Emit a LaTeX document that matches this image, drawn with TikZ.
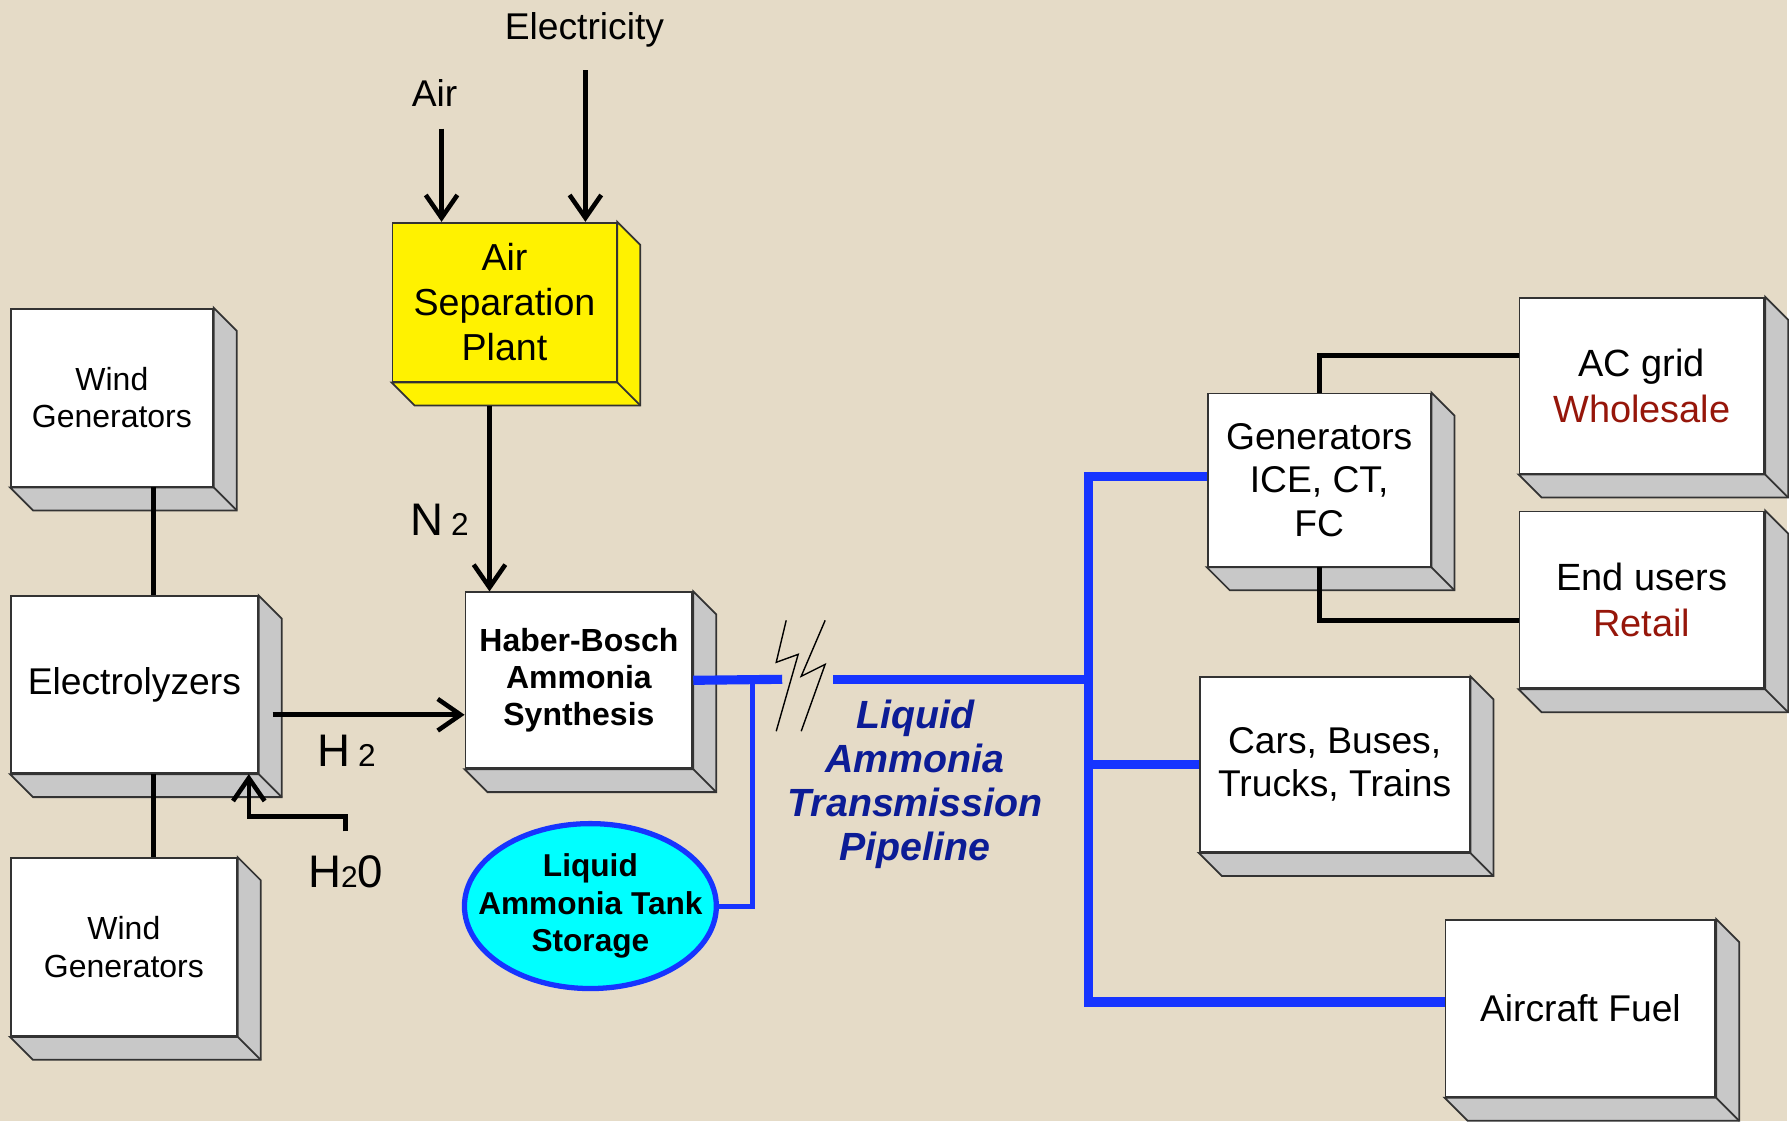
\documentclass[tikz,border=0pt]{standalone}
\usepackage{fontspec}
\setmainfont{Liberation Sans}
\usetikzlibrary{calc,positioning,arrows.meta,shapes.geometric}
\definecolor{paper}{RGB}{229,219,199}
\definecolor{pipeblue}{RGB}{22,52,255}
\definecolor{tankcyan}{RGB}{0,255,255}
\definecolor{textblue}{RGB}{12,28,150}
\definecolor{salered}{RGB}{150,22,10}
\definecolor{sidegrey}{RGB}{200,200,200}

\begin{document}
\begin{tikzpicture}[
  x=0.01cm, y=-0.01cm,
  every node/.style={font=\fontsize{10.6}{12.6}\selectfont, align=center, inner sep=0pt},
  blk/.style={rectangle, draw=black!80, fill=white, line width=0.5pt},
  small/.style={font=\fontsize{9.1}{10.8}\selectfont},
  flow/.style={line width=1.3pt, -{Straight Barb[length=6.5pt,width=9pt,line width=1.3pt]}},
  link/.style={line width=1.4pt},
  pipe/.style={pipeblue, line width=2.6pt, line join=miter},
  >=latex
]
\fill[paper] (0,0) rectangle (1789,1122);

% blocks
\node[blk, small, minimum width=2.02cm, minimum height=1.78cm] (windA) at (112,398) {Wind\\Generators};
\node[blk, minimum width=2.47cm, minimum height=1.77cm] (elec) at (134.5,685.5) {Electrolyzers};
\node[blk, small, minimum width=2.26cm, minimum height=1.78cm] (windB) at (124,948) {Wind\\Generators};
\node[blk, fill=yellow, minimum width=2.24cm, minimum height=1.59cm,
  font=\fontsize{10.7}{12.8}\selectfont] (asu) at (505,302.5) {Air\\Separation\\Plant};
\node[blk, minimum width=2.27cm, minimum height=1.76cm,
  font=\bfseries\fontsize{9.1}{10.6}\selectfont] (hb) at (579.5,681) {Haber-Bosch\\Ammonia\\Synthesis};
\node[ellipse, draw=pipeblue, line width=1.5pt, fill=tankcyan, minimum width=2.52cm, minimum height=1.65cm,
  label={[font=\bfseries\fontsize{9}{10.6}\selectfont]center:{Liquid\\Ammonia Tank\\Storage}}] (tank) at (591,907) {};
\node[blk, minimum width=2.23cm, minimum height=1.73cm,
  font=\fontsize{10.6}{12.3}\selectfont] (gen) at (1320.5,480.5) {Generators\\ICE, CT,\\FC};
\node[blk, minimum width=2.45cm, minimum height=1.76cm,
  font=\fontsize{10.8}{13}\selectfont] (acg) at (1643.5,386) {AC grid\\\textcolor{salered}{Wholesale}};
\node[blk, minimum width=2.45cm, minimum height=1.77cm,
  font=\fontsize{10.8}{13}\selectfont] (endu) at (1643.5,600.5) {End users\\\textcolor{salered}{Retail}};
\node[blk, minimum width=2.70cm, minimum height=1.75cm,
  font=\fontsize{10.6}{12.3}\selectfont] (cars) at (1336,765.5) {Cars, Buses,\\Trucks, Trains};
\node[blk, minimum width=2.70cm, minimum height=1.77cm] (fuel) at (1582,1009.5) {Aircraft Fuel};

% depth faces
\foreach \bx/\c in {windA/sidegrey, elec/sidegrey, windB/sidegrey, asu/yellow, hb/sidegrey,
                    gen/sidegrey, acg/sidegrey, endu/sidegrey, cars/sidegrey, fuel/sidegrey}{
  \filldraw[fill=\c, draw=black!80, line width=0.5pt] (\bx.north east) -- ++(23,23)
    -- ($(\bx.south east)+(23,23)$) -- ($(\bx.south west)+(23,23)$) -- (\bx.south west)
    -- (\bx.south east) -- cycle;
  \draw[black!80, line width=0.5pt] (\bx.south east) -- ++(23,23);
}

% labels
\node[anchor=base] (elct) at (585,40) {Electricity};
\node[anchor=base] (airin) at (435,107) {Air};
\node (n2) at (440,520) {\fontsize{13}{13}\selectfont N\,\fontsize{9}{9}\selectfont 2};
\node (h2) at (347,752) {\fontsize{13}{13}\selectfont H\,\fontsize{9}{9}\selectfont 2};
\node (h2o) at (346,873) {\fontsize{13}{13}\selectfont H\fontsize{8.5}{8.5}\selectfont 2\fontsize{13}{13}\selectfont 0};
\node[font=\bfseries\itshape\fontsize{11.2}{12.5}\selectfont, text=textblue] (pltxt) at (916,785)
  {Liquid\\Ammonia\\Transmission\\Pipeline};

% feeds
\draw[flow] ([shift={(1,22)}]elct.south) coordinate (e1) -- (e1 |- asu.north);
\draw[flow] ([shift={(7,21)}]airin.south) coordinate (a1) -- (a1 |- asu.north);
\draw[flow] ([shift={(-15,23)}]asu.south) coordinate (n2a) -- (n2a |- hb.north);
\draw[flow] ([shift={(14,30)}]elec.east) coordinate (h2a) -- (h2a -| hb.west);
\draw[flow] (h2o.north) ++(0,-24) coordinate (w0) -- ++(0,-15) -| ([xshift=1.145cm]elec.south);

\draw[link] ([xshift=0.42cm]windA.south) coordinate (wa) -- (wa |- elec.north);
\draw[link] ([xshift=0.195cm]elec.south) coordinate (wb) -- (wb |- windB.north);

% pipeline
\coordinate (cutL) at (783,680);
\coordinate (cutR) at (834,680);
\coordinate (tap) at (753,680);
\coordinate (trkT) at (1090,477);
\coordinate (trkB) at (1090,1003);
\draw[pipe] (hb.east) -- (cutL);
\draw[pipe] (cutR) -- (cutR -| trkT);
\draw[pipe] (gen.west |- trkT) -- (trkT) -- (trkB) -- (trkB -| fuel.west);
\draw[pipe] (trkT |- cars.west) -- (cars.west);
\draw[pipeblue, line width=1.4pt] (tap) |- (tank.east);
\draw[line width=0.4pt] (787,621) -- (777,663) -- (799,655) -- (777,732);
\draw[line width=0.4pt] (826,621) -- (802,677) -- (826,665) -- (802,732);

% outputs
\draw[link] (gen.north) -- ++(0,-37) coordinate (g1) -- (g1 -| acg.west);
\draw[link] (gen.south) -- ++(0,53) coordinate (g2) -- (g2 -| endu.west);
\end{tikzpicture}
\end{document}
